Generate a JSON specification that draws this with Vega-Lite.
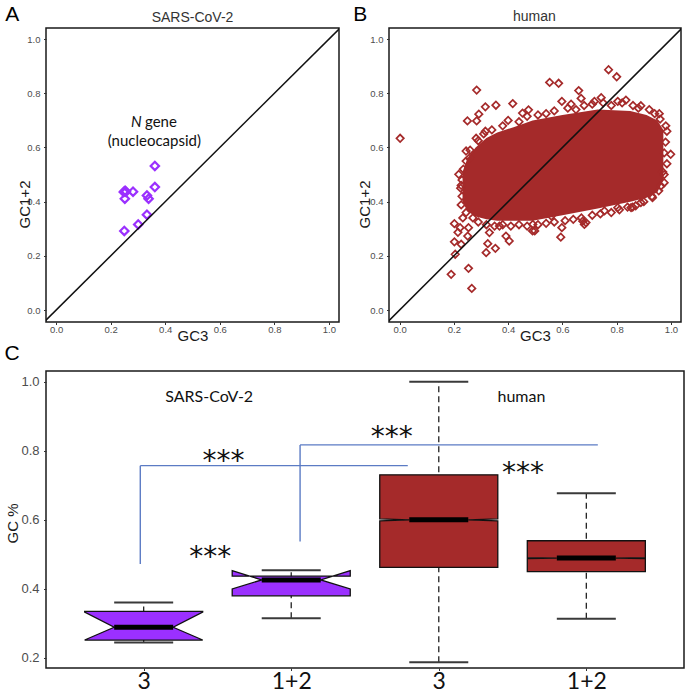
{
 "$schema": "https://vega.github.io/schema/vega-lite/v6.json",
 "background": "white",
 "padding": {"left": 3, "top": 3, "right": 2, "bottom": 12},
 "bounds": "full",
 "spacing": 5,
 "config": {
  "view": {"stroke": "#1a1a1a", "strokeWidth": 1.5},
  "axis": {"grid": false, "domain": false, "tickColor": "#333333", "tickSize": 2.5, "labelColor": "#4D4D4D", "labelFont": "Liberation Sans", "titleFont": "Liberation Sans", "titleFontWeight": "normal", "titleColor": "#1a1a1a"}
 },
 "datasets": {
  "sarsGenes": [
   {"gc3":0.362,"gc12":0.532},{"gc3":0.362,"gc12":0.454},{"gc3":0.248,"gc12":0.436},{"gc3":0.256,"gc12":0.437},
   {"gc3":0.282,"gc12":0.437},{"gc3":0.252,"gc12":0.411},{"gc3":0.333,"gc12":0.423},{"gc3":0.339,"gc12":0.411},
   {"gc3":0.333,"gc12":0.352},{"gc3":0.301,"gc12":0.316},{"gc3":0.25,"gc12":0.292},{"gc3":0.253,"gc12":0.44}
  ],
  "humanCore": [
   {"gc3":0.232,"gc12":0.40,"gc12hi":0.51},{"gc3":0.25,"gc12":0.365,"gc12hi":0.56},{"gc3":0.28,"gc12":0.345,"gc12hi":0.60},
   {"gc3":0.32,"gc12":0.335,"gc12hi":0.635},{"gc3":0.36,"gc12":0.33,"gc12hi":0.655},{"gc3":0.42,"gc12":0.33,"gc12hi":0.675},
   {"gc3":0.49,"gc12":0.33,"gc12hi":0.70},{"gc3":0.60,"gc12":0.35,"gc12hi":0.72},{"gc3":0.73,"gc12":0.375,"gc12hi":0.74},
   {"gc3":0.85,"gc12":0.40,"gc12hi":0.735},{"gc3":0.91,"gc12":0.415,"gc12hi":0.72},{"gc3":0.95,"gc12":0.435,"gc12hi":0.70},
   {"gc3":0.972,"gc12":0.48,"gc12hi":0.665}
  ],
  "humanGenes": [
   {"gc3":0.26,"gc12":0.59},{"gc3":0.29,"gc12":0.625},{"gc3":0.31,"gc12":0.65},{"gc3":0.34,"gc12":0.665},{"gc3":0.38,"gc12":0.68},
   {"gc3":0.40,"gc12":0.70},{"gc3":0.44,"gc12":0.695},{"gc3":0.47,"gc12":0.715},{"gc3":0.51,"gc12":0.72},{"gc3":0.54,"gc12":0.725},
   {"gc3":0.57,"gc12":0.735},{"gc3":0.62,"gc12":0.745},{"gc3":0.65,"gc12":0.74},{"gc3":0.68,"gc12":0.755},{"gc3":0.71,"gc12":0.76},
   {"gc3":0.75,"gc12":0.765},{"gc3":0.78,"gc12":0.755},{"gc3":0.82,"gc12":0.765},{"gc3":0.86,"gc12":0.755},{"gc3":0.88,"gc12":0.745},
   {"gc3":0.92,"gc12":0.74},{"gc3":0.94,"gc12":0.725},{"gc3":0.96,"gc12":0.705},{"gc3":0.985,"gc12":0.66},
   {"gc3":0.98,"gc12":0.62},{"gc3":0.975,"gc12":0.58},{"gc3":0.985,"gc12":0.54},{"gc3":0.97,"gc12":0.51},{"gc3":0.975,"gc12":0.47},
   {"gc3":0.955,"gc12":0.44},{"gc3":0.93,"gc12":0.42},{"gc3":0.90,"gc12":0.40},{"gc3":0.87,"gc12":0.385},{"gc3":0.84,"gc12":0.38},
   {"gc3":0.81,"gc12":0.37},{"gc3":0.78,"gc12":0.36},{"gc3":0.74,"gc12":0.355},{"gc3":0.71,"gc12":0.35},{"gc3":0.67,"gc12":0.34},
   {"gc3":0.64,"gc12":0.335},{"gc3":0.61,"gc12":0.33},{"gc3":0.57,"gc12":0.325},{"gc3":0.54,"gc12":0.32},{"gc3":0.51,"gc12":0.315},
   {"gc3":0.47,"gc12":0.31},{"gc3":0.44,"gc12":0.315},{"gc3":0.41,"gc12":0.31},{"gc3":0.38,"gc12":0.315},{"gc3":0.35,"gc12":0.31},
   {"gc3":0.32,"gc12":0.315},{"gc3":0.29,"gc12":0.325},{"gc3":0.27,"gc12":0.34},{"gc3":0.245,"gc12":0.36},
   {"gc3":0.23,"gc12":0.42},{"gc3":0.225,"gc12":0.45},{"gc3":0.23,"gc12":0.48},{"gc3":0.235,"gc12":0.52},{"gc3":0.245,"gc12":0.55},
   {"gc3":0.002,"gc12":0.634},{"gc3":0.284,"gc12":0.812},{"gc3":0.553,"gc12":0.84},{"gc3":0.586,"gc12":0.837},{"gc3":0.66,"gc12":0.81},
   {"gc3":0.77,"gc12":0.887},{"gc3":0.80,"gc12":0.861},{"gc3":0.25,"gc12":0.698},{"gc3":0.284,"gc12":0.698},{"gc3":0.292,"gc12":0.723},
   {"gc3":0.316,"gc12":0.75},{"gc3":0.355,"gc12":0.756},{"gc3":0.417,"gc12":0.762},{"gc3":0.453,"gc12":0.727},{"gc3":0.475,"gc12":0.739},
   {"gc3":0.316,"gc12":0.66},{"gc3":0.282,"gc12":0.634},{"gc3":0.245,"gc12":0.587},{"gc3":0.257,"gc12":0.561},{"gc3":0.218,"gc12":0.501},
   {"gc3":0.227,"gc12":0.46},{"gc3":0.227,"gc12":0.388},{"gc3":0.233,"gc12":0.34},{"gc3":0.202,"gc12":0.319},{"gc3":0.223,"gc12":0.304},
   {"gc3":0.254,"gc12":0.304},{"gc3":0.215,"gc12":0.287},{"gc3":0.251,"gc12":0.273},{"gc3":0.202,"gc12":0.252},{"gc3":0.227,"gc12":0.243},
   {"gc3":0.205,"gc12":0.206},{"gc3":0.19,"gc12":0.132},{"gc3":0.254,"gc12":0.154},{"gc3":0.266,"gc12":0.08},{"gc3":0.319,"gc12":0.212},
   {"gc3":0.353,"gc12":0.228},{"gc3":0.325,"gc12":0.245},{"gc3":0.331,"gc12":0.286},{"gc3":0.368,"gc12":0.31},{"gc3":0.404,"gc12":0.255},
   {"gc3":0.392,"gc12":0.273},{"gc3":0.49,"gc12":0.292},{"gc3":0.598,"gc12":0.77},{"gc3":0.669,"gc12":0.781},{"gc3":0.632,"gc12":0.76},
   {"gc3":0.743,"gc12":0.784},{"gc3":0.718,"gc12":0.77},{"gc3":0.804,"gc12":0.77},{"gc3":0.834,"gc12":0.775},{"gc3":0.889,"gc12":0.754},
   {"gc3":0.957,"gc12":0.725},{"gc3":0.981,"gc12":0.68},{"gc3":0.999,"gc12":0.575},{"gc3":0.975,"gc12":0.5},{"gc3":0.963,"gc12":0.458},
   {"gc3":0.932,"gc12":0.415},{"gc3":0.889,"gc12":0.397},{"gc3":0.859,"gc12":0.38},{"gc3":0.681,"gc12":0.316},{"gc3":0.675,"gc12":0.328},
   {"gc3":0.598,"gc12":0.304},{"gc3":0.594,"gc12":0.269},{"gc3":0.559,"gc12":0.347},{"gc3":0.498,"gc12":0.292},{"gc3":0.491,"gc12":0.316},
   {"gc3":0.804,"gc12":0.378},{"gc3":0.755,"gc12":0.366},{"gc3":0.687,"gc12":0.323},{"gc3":0.853,"gc12":0.378}
  ],
  "boxes": [
   {"box":"SARS-CoV-2 GC3","grp":"SARS-CoV-2","pos":1,"lw":0.245,"q1":0.252,"nlo":0.252,"med":0.289,"nhi":0.333,"q3":0.335,"uw":0.361},
   {"box":"SARS-CoV-2 GC1+2","grp":"SARS-CoV-2","pos":2,"lw":0.315,"q1":0.38,"nlo":0.40,"med":0.426,"nhi":0.453,"q3":0.437,"uw":0.454},
   {"box":"human GC3","grp":"human","pos":3,"lw":0.1875,"q1":0.4625,"nlo":0.597,"med":0.60,"nhi":0.603,"q3":0.7305,"uw":1.0},
   {"box":"human GC1+2","grp":"human","pos":4,"lw":0.3138,"q1":0.4498,"nlo":0.4875,"med":0.4894,"nhi":0.4905,"q3":0.5395,"uw":0.6767}
  ]
 },
 "vconcat": [
  {
   "hconcat": [
    {
     "width": 293, "height": 294,
     "encoding": {
      "x": {"field": "gc3", "type": "quantitative", "scale": {"domain": [-0.037, 1.037], "nice": false, "zero": false},
            "axis": {"title": "GC3", "values": [0, 0.2, 0.4, 0.6, 0.8, 1], "format": ".1f", "labelFontSize": 9.5, "labelPadding": 0, "titleFontSize": 15, "titleY": 18, "titleBaseline": "alphabetic"}},
      "y": {"field": "gc12", "type": "quantitative", "scale": {"domain": [-0.044, 1.041], "nice": false, "zero": false},
            "axis": {"title": "GC1+2", "values": [0, 0.2, 0.4, 0.6, 0.8, 1], "format": ".1f", "labelFontSize": 9.5, "labelPadding": 3.5, "titleFontSize": 15, "titleAngle": 270, "titleX": -17, "titleY": 176, "titleBaseline": "alphabetic", "titleAlign": "center"}}
     },
     "layer": [
      {"data": {"name": "sarsGenes"}, "mark": {"type": "point", "shape": "diamond", "filled": false, "color": "#9B30FF", "strokeWidth": 2.2, "size": 70, "opacity": 1}},
      {"data": {"values": [{"gc3": -0.06, "gc12": -0.06, "gc3b": 1.06, "gc12b": 1.06}]}, "mark": {"type": "rule", "color": "#111111", "strokeWidth": 1.5, "clip": true}, "encoding": {"x2": {"field": "gc3b"}, "y2": {"field": "gc12b"}}},
      {"data": {"values": [{"gc3": 0.5, "gc12": 1.0613, "label": "SARS-CoV-2"}]}, "mark": {"type": "text", "font": "Liberation Sans", "fontSize": 14, "color": "#333333", "baseline": "alphabetic", "align": "center"}, "encoding": {"text": {"field": "label"}}},
      {"data": {"values": [{"gc3": -0.161, "gc12": 1.088, "label": "A"}, {"gc3": -0.161, "gc12": -0.1625, "label": "C"}]}, "mark": {"type": "text", "font": "Liberation Sans", "fontSize": 21, "color": "#000000", "baseline": "middle", "align": "center"}, "encoding": {"text": {"field": "label"}}},
      {"data": {"values": [{"gc3": 0.2744, "gc12": 0.675, "label": "N"}]}, "mark": {"type": "text", "font": "Lato", "fontSize": 15, "fontStyle": "italic", "align": "left", "baseline": "alphabetic", "color": "#111111"}, "encoding": {"text": {"field": "label"}}},
      {"data": {"values": [{"gc3": 0.3257, "gc12": 0.675, "label": "gene"}]}, "mark": {"type": "text", "font": "Lato", "fontSize": 15, "align": "left", "baseline": "alphabetic", "color": "#111111"}, "encoding": {"text": {"field": "label"}}},
      {"data": {"values": [{"gc3": 0.36, "gc12": 0.606, "label": "(nucleocapsid)"}]}, "mark": {"type": "text", "font": "Lato", "fontSize": 15, "align": "center", "baseline": "alphabetic", "color": "#111111"}, "encoding": {"text": {"field": "label"}}}
     ]
    },
    {
     "width": 292, "height": 294,
     "encoding": {
      "x": {"field": "gc3", "type": "quantitative", "scale": {"domain": [-0.039, 1.037], "nice": false, "zero": false},
            "axis": {"title": "GC3", "values": [0, 0.2, 0.4, 0.6, 0.8, 1], "format": ".1f", "labelFontSize": 9.5, "labelPadding": 0, "titleFontSize": 15, "titleY": 18, "titleBaseline": "alphabetic"}},
      "y": {"field": "gc12", "type": "quantitative", "scale": {"domain": [-0.044, 1.041], "nice": false, "zero": false},
            "axis": {"title": "GC1+2", "values": [0, 0.2, 0.4, 0.6, 0.8, 1], "format": ".1f", "labelFontSize": 9.5, "labelPadding": 3.5, "titleFontSize": 15, "titleAngle": 270, "titleX": -20, "titleY": 176, "titleBaseline": "alphabetic", "titleAlign": "center"}}
     },
     "layer": [
      {"data": {"name": "humanCore"}, "mark": {"type": "area", "color": "#A52A2A", "opacity": 1}, "encoding": {"y2": {"field": "gc12hi"}}},
      {"data": {"name": "humanGenes"}, "mark": {"type": "point", "shape": "diamond", "filled": false, "color": "#A52A2A", "strokeWidth": 1.7, "size": 55, "opacity": 1}},
      {"data": {"values": [{"gc3": -0.06, "gc12": -0.06, "gc3b": 1.06, "gc12b": 1.06}]}, "mark": {"type": "rule", "color": "#111111", "strokeWidth": 1.5, "clip": true}, "encoding": {"x2": {"field": "gc3b"}, "y2": {"field": "gc12b"}}},
      {"data": {"values": [{"gc3": 0.497, "gc12": 1.065, "label": "human"}]}, "mark": {"type": "text", "font": "Liberation Sans", "fontSize": 14, "color": "#333333", "baseline": "alphabetic", "align": "center"}, "encoding": {"text": {"field": "label"}}},
      {"data": {"values": [{"gc3": -0.145, "gc12": 1.088, "label": "B"}]}, "mark": {"type": "text", "font": "Liberation Sans", "fontSize": 21, "color": "#000000", "baseline": "middle", "align": "center"}, "encoding": {"text": {"field": "label"}}}
     ]
    }
   ],
   "spacing": 50,
   "bounds": "flush"
  },
  {
   "width": 638, "height": 297,
   "layer": [
    {"data": {"name": "boxes"}, "mark": {"type": "rule", "strokeDash": [6, 4], "color": "#222222", "strokeWidth": 1.3},
     "encoding": {
      "x": {"field": "pos", "type": "quantitative", "scale": {"domain": [0.338, 4.662], "nice": false, "zero": false},
            "axis": {"title": null, "values": [1, 2, 3, 4], "labelExpr": "datum.value == 1 || datum.value == 3 ? '3' : '1+2'", "labelFont": "Lato", "labelFontSize": 23, "labelColor": "#111111", "labelPadding": 0}},
      "y": {"field": "lw", "type": "quantitative", "scale": {"domain": [0.171, 1.031], "nice": false, "zero": false},
            "axis": {"title": "GC %", "values": [0.2, 0.4, 0.6, 0.8, 1], "format": ".1f", "labelFontSize": 13, "labelPadding": 4.5, "titleFontSize": 15, "titleAngle": 270, "titleX": -29, "titleY": 152, "titleBaseline": "alphabetic", "titleAlign": "center"}},
      "y2": {"field": "uw"}
     }},
    {"data": {"name": "boxes"},
     "transform": [
      {"fold": ["q1", "nlo", "med", "nhi", "q3"], "as": ["stat", "gc"]},
      {"filter": "!(datum.stat == 'nhi' && datum.nhi > datum.q3)"},
      {"calculate": "datum.stat == 'med' ? 0.2 : (datum.stat == 'q3' && datum.nhi > datum.q3 ? 0.2 + 0.2 * (datum.q3 - datum.med) / (datum.nhi - datum.med) : 0.4)", "as": "hw"},
      {"calculate": "datum.pos - datum.hw", "as": "xl"},
      {"calculate": "datum.pos + datum.hw", "as": "xr"}
     ],
     "mark": {"type": "area", "orient": "horizontal", "stroke": "#111111", "strokeWidth": 1.3, "opacity": 1},
     "encoding": {
      "y": {"field": "gc", "type": "quantitative", "scale": {"domain": [0.171, 1.031], "nice": false, "zero": false}},
      "x": {"field": "xl", "type": "quantitative", "stack": null, "scale": {"domain": [0.338, 4.662], "nice": false, "zero": false}},
      "x2": {"field": "xr"},
      "detail": {"field": "box"},
      "color": {"field": "grp", "type": "nominal", "scale": {"domain": ["SARS-CoV-2", "human"], "range": ["#9B30FF", "#A52A2A"]}, "legend": null}
     }},
    {"data": {"name": "boxes"},
     "transform": [
      {"filter": "datum.nhi > datum.q3"},
      {"fold": ["q3", "nhi"], "as": ["stat", "gc"]},
      {"calculate": "datum.stat == 'q3' ? 0.2 + 0.2 * (datum.q3 - datum.med) / (datum.nhi - datum.med) : 0.4", "as": "hw"},
      {"calculate": "datum.pos - 0.4", "as": "xlo"},
      {"calculate": "datum.pos - datum.hw", "as": "xli"},
      {"calculate": "datum.pos + datum.hw", "as": "xri"},
      {"calculate": "datum.pos + 0.4", "as": "xro"}
     ],
     "encoding": {
      "y": {"field": "gc", "type": "quantitative", "scale": {"domain": [0.171, 1.031], "nice": false, "zero": false}},
      "color": {"field": "grp", "type": "nominal", "scale": {"domain": ["SARS-CoV-2", "human"], "range": ["#9B30FF", "#A52A2A"]}, "legend": null}
     },
     "layer": [
      {"mark": {"type": "area", "orient": "horizontal", "stroke": "#111111", "strokeWidth": 1.3, "opacity": 1},
       "encoding": {"x": {"field": "xlo", "type": "quantitative", "stack": null, "scale": {"domain": [0.338, 4.662], "nice": false, "zero": false}}, "x2": {"field": "xli"}}},
      {"mark": {"type": "area", "orient": "horizontal", "stroke": "#111111", "strokeWidth": 1.3, "opacity": 1},
       "encoding": {"x": {"field": "xri", "type": "quantitative", "stack": null, "scale": {"domain": [0.338, 4.662], "nice": false, "zero": false}}, "x2": {"field": "xro"}}}
     ]},
    {"data": {"name": "boxes"}, "mark": {"type": "tick", "orient": "horizontal", "size": 59, "thickness": 5, "color": "#000000", "opacity": 1},
     "encoding": {
      "x": {"field": "pos", "type": "quantitative", "scale": {"domain": [0.338, 4.662], "nice": false, "zero": false}},
      "y": {"field": "med", "type": "quantitative", "scale": {"domain": [0.171, 1.031], "nice": false, "zero": false}}
     }},
    {"data": {"name": "boxes"}, "transform": [{"fold": ["lw", "uw"], "as": ["stat", "wv"]}],
     "mark": {"type": "tick", "orient": "horizontal", "size": 59, "thickness": 2, "color": "#3a3a3a", "opacity": 1},
     "encoding": {
      "x": {"field": "pos", "type": "quantitative", "scale": {"domain": [0.338, 4.662], "nice": false, "zero": false}},
      "y": {"field": "wv", "type": "quantitative", "scale": {"domain": [0.171, 1.031], "nice": false, "zero": false}}
     }},
    {"data": {"values": [
      {"pos": 0.977, "gc": 0.472, "pos2": 0.977, "gc2": 0.757},
      {"pos": 0.977, "gc": 0.757, "pos2": 2.79, "gc2": 0.757},
      {"pos": 2.06, "gc": 0.537, "pos2": 2.06, "gc2": 0.817},
      {"pos": 2.06, "gc": 0.817, "pos2": 4.078, "gc2": 0.817}
     ]},
     "mark": {"type": "rule", "color": "#5B7BC4", "strokeWidth": 1.4},
     "encoding": {
      "x": {"field": "pos", "type": "quantitative", "scale": {"domain": [0.338, 4.662], "nice": false, "zero": false}},
      "y": {"field": "gc", "type": "quantitative", "scale": {"domain": [0.171, 1.031], "nice": false, "zero": false}},
      "x2": {"field": "pos2"}, "y2": {"field": "gc2"}
     }},
    {"data": {"values": [{"pos": 1.444, "gc": 0.957, "label": "SARS-CoV-2"}, {"pos": 3.56, "gc": 0.957, "label": "human"}]},
     "mark": {"type": "text", "font": "Lato", "fontSize": 16, "color": "#111111", "baseline": "middle", "align": "center"},
     "encoding": {
      "x": {"field": "pos", "type": "quantitative", "scale": {"domain": [0.338, 4.662], "nice": false, "zero": false}},
      "y": {"field": "gc", "type": "quantitative", "scale": {"domain": [0.171, 1.031], "nice": false, "zero": false}},
      "text": {"field": "label"}
     }},
    {"data": {"values": [
      {"pos": 1.541, "gc": 0.744, "label": "***"},
      {"pos": 1.452, "gc": 0.466, "label": "***"},
      {"pos": 2.681, "gc": 0.814, "label": "***"},
      {"pos": 3.57, "gc": 0.71, "label": "***"}
     ]},
     "mark": {"type": "text", "font": "DejaVu Sans", "fontSize": 28, "color": "#111111", "baseline": "alphabetic", "align": "center"},
     "encoding": {
      "x": {"field": "pos", "type": "quantitative", "scale": {"domain": [0.338, 4.662], "nice": false, "zero": false}},
      "y": {"field": "gc", "type": "quantitative", "scale": {"domain": [0.171, 1.031], "nice": false, "zero": false}},
      "text": {"field": "label"}
     }}
   ]
  }
 ]
}
